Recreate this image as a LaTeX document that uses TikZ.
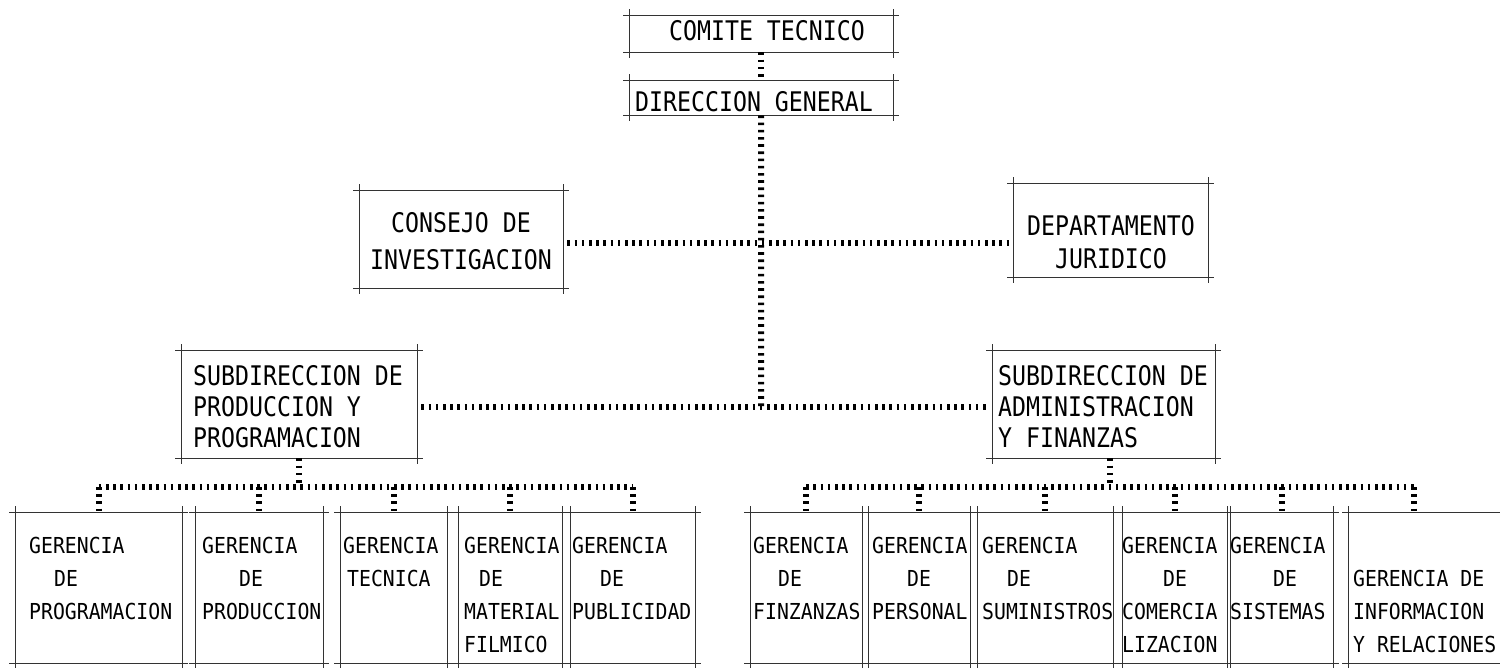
\documentclass[tikz,border=0pt]{standalone}
\usepackage{fontspec}
\newfontfamily\maqgrande{DejaVu Sans Mono}[FakeStretch=0.86]
\newfontfamily\maqchica{DejaVu Sans Mono}[FakeStretch=0.9]
\tikzset{
  caja/.style={draw=none, inner sep=0pt, anchor=north west},
  borde/.style={line width=0.7pt, black!80},
  punto/.style={line width=6pt, dash pattern=on 2.6pt off 4.6pt},
  tg/.style={font=\maqgrande\fontsize{27pt}{31pt}\selectfont, inner sep=0pt, align=left},
  tc/.style={font=\maqchica\fontsize{22pt}{33pt}\selectfont, inner sep=0pt, align=left, anchor=north west},
}
\begin{document}
\begin{tikzpicture}[x=1pt, y=-1pt]
\useasboundingbox (0,0) rectangle (1500,667);
% cajas
\node[caja, minimum width=264pt, minimum height=37pt] (ct) at (629,15) {};
\node[caja, minimum width=264pt, minimum height=35pt] (dg) at (629,80) {};
\node[caja, minimum width=204pt, minimum height=98pt] (ci) at (359,190) {};
\node[caja, minimum width=195pt, minimum height=94pt] (dj) at (1013,183) {};
\node[caja, minimum width=236pt, minimum height=108pt] (sp) at (181,350) {};
\node[caja, minimum width=223pt, minimum height=108pt] (sa) at (992,350) {};
\node[caja, minimum width=167pt, minimum height=151pt] (g1) at (15,512) {};
\node[caja, minimum width=128pt, minimum height=151pt] (g2) at (195,512) {};
\node[caja, minimum width=107pt, minimum height=151pt] (g3) at (340,512) {};
\node[caja, minimum width=104pt, minimum height=151pt] (g4) at (458,512) {};
\node[caja, minimum width=125pt, minimum height=151pt] (g5) at (570,512) {};
\node[caja, minimum width=112pt, minimum height=151pt] (g6) at (750,512) {};
\node[caja, minimum width=102pt, minimum height=151pt] (g7) at (868,512) {};
\node[caja, minimum width=136pt, minimum height=151pt] (g8) at (977,512) {};
\node[caja, minimum width=105pt, minimum height=151pt] (g9) at (1122,512) {};
\node[caja, minimum width=103pt, minimum height=151pt] (g10) at (1230,512) {};
\node[caja, minimum width=155pt, minimum height=151pt] (g11) at (1348,512) {};

% textos
\node[tg] (ctt) at (767,31) {COMITE TECNICO};
\node[tg] (dgt) at (754,102) {DIRECCION GENERAL};
\node[tg, align=center, anchor=north] (cit) at (461,212) {CONSEJO DE\\[6pt]INVESTIGACION};
\node[tg, align=center, anchor=north] (djt) at (1111,215) {DEPARTAMENTO\\[2pt]JURIDICO};
\node[tg, anchor=north west] (spt) at (193,365) {SUBDIRECCION DE\\PRODUCCION Y\\PROGRAMACION};
\node[tg, anchor=north west] (sat) at (998,365) {SUBDIRECCION DE\\ADMINISTRACION\\Y FINANZAS};
\node[tc] (g1t) at (29,537) {GERENCIA\\\hspace*{25pt}DE\\PROGRAMACION};
\node[tc] (g2t) at (202,537) {GERENCIA\\\hspace*{37pt}DE\\PRODUCCION};
\node[tc] (g3t) at (343,537) {GERENCIA\\\hspace*{4pt}TECNICA};
\node[tc] (g4t) at (464,537) {GERENCIA\\\hspace*{15pt}DE\\MATERIAL\\FILMICO};
\node[tc] (g5t) at (572,537) {GERENCIA\\\hspace*{28pt}DE\\PUBLICIDAD};
\node[tc] (g6t) at (753,537) {GERENCIA\\\hspace*{25pt}DE\\FINZANZAS};
\node[tc] (g7t) at (872,537) {GERENCIA\\\hspace*{35pt}DE\\PERSONAL};
\node[tc] (g8t) at (982,537) {GERENCIA\\\hspace*{25pt}DE\\SUMINISTROS};
\node[tc] (g9t) at (1122,537) {GERENCIA\\\hspace*{41pt}DE\\COMERCIA\\LIZACION};
\node[tc] (g10t) at (1230,537) {GERENCIA\\\hspace*{43pt}DE\\SISTEMAS};
\node[tc] (g11t) at (1353,570) {GERENCIA DE\\INFORMACION\\Y RELACIONES};

% marcos
\foreach \n in {ct,dg,ci,dj,sp,sa,g1,g2,g3,g4,g5,g6,g7,g8,g9,g10,g11} {
  \draw[borde] ([xshift=-6pt]\n.north west) -- ([xshift=6pt]\n.north east);
  \draw[borde] ([xshift=-6pt]\n.south west) -- ([xshift=6pt]\n.south east);
  \draw[borde] ([yshift=6pt]\n.north west) -- ([yshift=-6pt]\n.south west);
  \draw[borde] ([yshift=6pt]\n.north east) -- ([yshift=-6pt]\n.south east);
}

% lineas
\coordinate (cruce) at (761,243);
\coordinate (nudo) at (761,407);
\coordinate (bus) at (0,487);
\draw[punto] (ct.south) -- (dg.north);
\draw[punto] (dg.south) -- (nudo);
\draw[punto, shorten <=4pt, shorten >=2pt] (ci.east |- cruce) -- (dj.west |- cruce);
\draw[punto, shorten <=4pt, shorten >=2pt] (sp.east |- nudo) -- (sa.west |- nudo);
\draw[punto] (sp.south) -- (sp.south |- bus);
\draw[punto] ([xshift=6pt]sa.south) -- ([xshift=6pt]sa.south |- bus);
\draw[punto] (g1.north |- bus) -- (g5.north |- bus);
\draw[punto] (g6.north |- bus) -- ([xshift=-12pt]g11.north |- bus);
\foreach \i in {1,...,10}
  \draw[punto] (g\i.north |- bus) -- (g\i.north);
\draw[punto] ([xshift=-12pt]g11.north |- bus) -- ([xshift=-12pt]g11.north);

\end{tikzpicture}
\end{document}
